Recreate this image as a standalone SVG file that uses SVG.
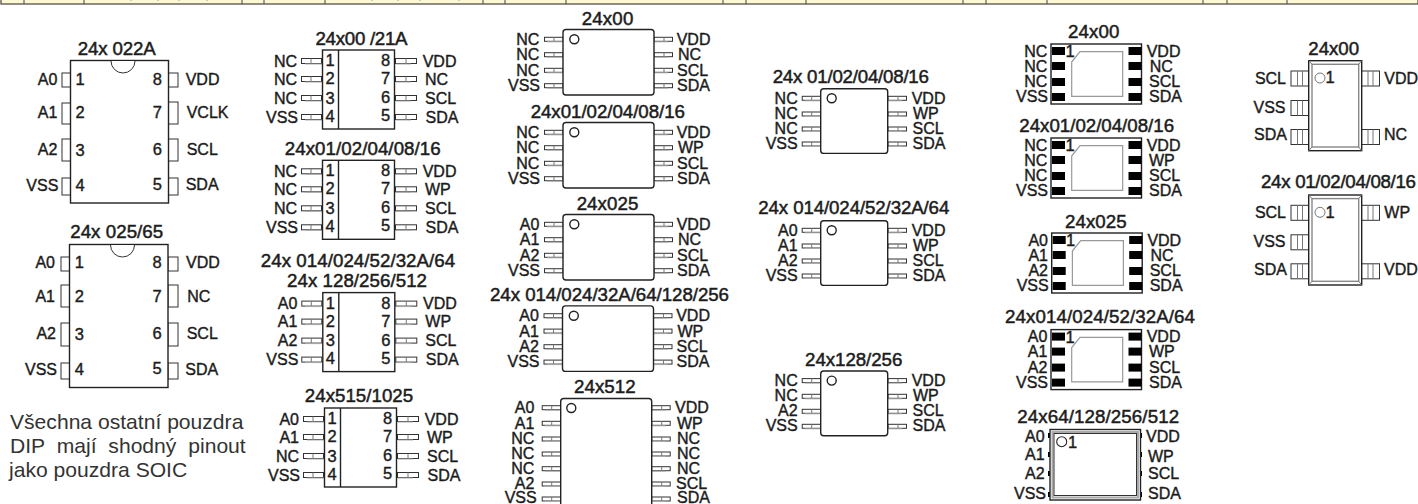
<svg xmlns="http://www.w3.org/2000/svg" width="1418" height="504" viewBox="0 0 1418 504">
<style>
text{font-family:"Liberation Sans",Arial,sans-serif;fill:#1c1c1c;stroke:#1c1c1c;stroke-width:.4}
.t{font-size:18.700px;text-anchor:middle;stroke-width:.5}
.l{font-size:16px}
.e{font-size:16px;text-anchor:end}
.n{font-size:16.500px;text-anchor:middle}
.p{font-size:21.100px;fill:#333;stroke:none}
.b{fill:#fff;stroke:#222;stroke-width:1.400}
.c{fill:#fff;stroke:#333;stroke-width:1}
.g{fill:none;stroke:#999;stroke-width:1.200}
.s{stroke:#777;stroke-width:1;fill:none}
.k{fill:#000}
</style>
<defs>
<g id="sl"><rect x="0.5" y="-2.5" width="20" height="5" class="c"/><path d="M10 -2.5V2.5" class="s"/><path d="M4 3H21" stroke="#aaa" stroke-width="1"/></g>
<g id="sr"><rect x="0.5" y="-2.5" width="21" height="5" class="c"/><path d="M11 -2.5V2.5" class="s"/><path d="M1 3H16" stroke="#aaa" stroke-width="1"/></g>
<g id="ml"><rect x="0.5" y="-2" width="18.500" height="4" class="c"/><path d="M10 -2V2" class="s"/><path d="M3 2.500H19" stroke="#aaa" stroke-width="1"/></g>
<g id="mr"><rect x="0" y="-2" width="18.500" height="4" class="c"/><path d="M10 -2V2" class="s"/><path d="M0 2.500H14" stroke="#aaa" stroke-width="1"/></g>
<g id="soic"><use href="#sl" x="301" y="61"/><use href="#sl" x="301" y="79"/><use href="#sl" x="301" y="98"/><use href="#sl" x="301" y="117"/><use href="#sr" x="395" y="61"/><use href="#sr" x="395" y="79"/><use href="#sr" x="395" y="98"/><use href="#sr" x="395" y="117"/><rect x="322.500" y="50" width="72" height="79" class="b"/><path d="M338.500 50V129" class="b"/></g>
<g id="msop"><use href="#ml" x="544" y="39.300"/><use href="#ml" x="544" y="54.700"/><use href="#ml" x="544" y="70.300"/><use href="#ml" x="544" y="85.700"/><use href="#mr" x="654" y="39.300"/><use href="#mr" x="654" y="54.700"/><use href="#mr" x="654" y="70.300"/><use href="#mr" x="654" y="85.700"/><rect x="563" y="29.500" width="91" height="65.500" rx="3" class="b"/><circle cx="574.300" cy="39.300" r="4.500" class="b"/></g>
<g id="msop4"><use href="#ml" x="801.700" y="98.300"/><use href="#ml" x="801.700" y="114"/><use href="#ml" x="801.700" y="129"/><use href="#ml" x="801.700" y="144"/><use href="#mr" x="888" y="98.300"/><use href="#mr" x="888" y="114"/><use href="#mr" x="888" y="129"/><use href="#mr" x="888" y="144"/><rect x="820.700" y="88.700" width="67" height="64.700" rx="3" class="b"/><circle cx="831.700" cy="98.300" r="4.500" class="b"/></g>
<g id="dfn"><rect x="1051" y="44" width="90.500" height="60" class="b"/><rect x="1052" y="47" width="13" height="8" class="k"/><rect x="1052" y="62" width="13" height="8" class="k"/><rect x="1052" y="78" width="13" height="8" class="k"/><rect x="1052" y="93" width="13" height="8" class="k"/><rect x="1128.500" y="47" width="13" height="8" class="k"/><rect x="1128.500" y="62" width="13" height="8" class="k"/><rect x="1128.500" y="78" width="13" height="8" class="k"/><rect x="1128.500" y="93" width="13" height="8" class="k"/><path d="M1071.700 62L1080 51.700H1122.700V96.300H1071.700Z" class="g"/></g>
<g id="p6"><rect x="0.500" y="0.500" width="18" height="15" class="c"/><path d="M7 .5V15.500M12 .5V15.500" class="s"/></g>
<g id="sot"><use href="#p6" x="1290.500" y="70.500"/><use href="#p6" x="1290.500" y="100"/><use href="#p6" x="1290.500" y="129"/><use href="#p6" x="1361" y="70.500"/><use href="#p6" x="1361" y="129"/><rect x="1308.700" y="60.700" width="53" height="90" class="b"/><rect x="1312" y="64.300" width="46.700" height="82.700" fill="none" stroke="#888" stroke-width="1.400"/><path d="M1308.700 60.700L1312 64.300M1361.700 60.700L1358.700 64.300M1308.700 150.700L1312 147M1361.700 150.700L1358.700 147" class="s"/><circle cx="1320" cy="78" r="5" fill="#fff" stroke="#777"/></g>
</defs>

<g id="header-strip">
<rect x="1" y="-2" width="1417" height="6" fill="#fdf8d2" stroke="#444" stroke-width="1.200"/>
<path d="M24 0V4M84 0V4M242 0V4M264 0V4M325 0V4M483 0V4M505 0V4M566 0V4M723 0V4M746 0V4M806 0V4M963 0V4M986 0V4M1047 0V4M1203 0V4M1227 0V4M1287 0V4" stroke="#444" stroke-width="1"/>
<path d="M130 0H132M157 0H159M178 0H180M206 0H208M371 0H373M397 0H399M419 0H421M458 0H460" stroke="#bbb" stroke-width="1.500"/>
</g>
<g id="connectors"></g>

<g id="dip-022a">
<rect x="62" y="73" width="9" height="14" class="c"/><rect x="62" y="103" width="9" height="21" class="c"/><rect x="62" y="139" width="9" height="22" class="c"/><rect x="62" y="178" width="9" height="17" class="c"/>
<rect x="168" y="73" width="10" height="14" class="c"/><rect x="168" y="102" width="10" height="22" class="c"/><rect x="168" y="139" width="10" height="22" class="c"/><rect x="168" y="178" width="10" height="17" class="c"/>
<rect x="70.500" y="60.500" width="98" height="142.500" class="b"/>
<path d="M111 61A12 12 0 0 0 135 61" class="c"/>
<text class="t" x="116.700" y="55" textLength="78">24x 022A</text>
<text class="e" x="57.300" y="85">A0</text><text class="e" x="57.300" y="118">A1</text><text class="e" x="57.300" y="155">A2</text><text class="e" x="58.300" y="191">VSS</text>
<text class="n" x="80" y="85">1</text><text class="n" x="80" y="118">2</text><text class="n" x="80" y="156">3</text><text class="n" x="80" y="191">4</text>
<text class="n" x="157.300" y="85">8</text><text class="n" x="157.300" y="118">7</text><text class="n" x="157.300" y="155">6</text><text class="n" x="157.300" y="190">5</text>
<text class="l" x="185.700" y="85">VDD</text><text class="l" x="186.700" y="118">VCLK</text><text class="l" x="186.700" y="155">SCL</text><text class="l" x="185.700" y="190">SDA</text>
</g>
<g id="dip-025">
<rect x="61" y="257" width="9" height="14" class="c"/><rect x="61" y="285" width="9" height="22" class="c"/><rect x="61" y="323" width="9" height="23" class="c"/><rect x="61" y="363" width="9" height="16" class="c"/>
<rect x="168" y="257" width="10" height="14" class="c"/><rect x="168" y="285" width="10" height="22" class="c"/><rect x="168" y="323" width="10" height="23" class="c"/><rect x="168" y="363" width="10" height="16" class="c"/>
<rect x="69.500" y="244.500" width="98.500" height="143" class="b"/>
<path d="M110.500 245A12 12 0 0 0 134.500 245" class="c"/>
<text class="t" x="116.700" y="238.300" textLength="93">24x 025/65</text>
<text class="e" x="55" y="268.300">A0</text><text class="e" x="55" y="302.300">A1</text><text class="e" x="56" y="339.300">A2</text><text class="e" x="57" y="375">VSS</text>
<text class="n" x="79.300" y="268.300">1</text><text class="n" x="79.300" y="302.300">2</text><text class="n" x="79.300" y="340">3</text><text class="n" x="79.300" y="375">4</text>
<text class="n" x="157" y="268.300">8</text><text class="n" x="157" y="302.300">7</text><text class="n" x="157" y="339.300">6</text><text class="n" x="157" y="374">5</text>
<text class="l" x="186" y="268.300">VDD</text><text class="l" x="187.300" y="302">NC</text><text class="l" x="186.700" y="339.300">SCL</text><text class="l" x="185.300" y="375">SDA</text>
</g>
<g id="note">
<text class="p" x="10" y="429">Všechna ostatní pouzdra</text>
<text class="p" x="10" y="453.300" word-spacing="6">DIP mají shodný pinout</text>
<text class="p" x="9" y="476.700">jako pouzdra SOIC</text>
</g>

<g id="soic-00"><use href="#soic"/>
<text class="t" x="361.500" y="45" textLength="92">24x00 /21A</text>
<text class="e" x="297" y="66.700">NC</text><text class="e" x="297" y="84.700">NC</text><text class="e" x="297" y="103.700">NC</text><text class="e" x="298" y="122.500">VSS</text>
<text class="n" x="330" y="66">1</text><text class="n" x="330" y="84">2</text><text class="n" x="330" y="103.500">3</text><text class="n" x="330" y="121.500">4</text>
<text class="n" x="385.500" y="66">8</text><text class="n" x="385.500" y="84">7</text><text class="n" x="385.500" y="103">6</text><text class="n" x="385.500" y="121">5</text>
<text class="l" x="422.700" y="66.700">VDD</text><text class="l" x="425" y="84.700">NC</text><text class="l" x="425" y="103.700">SCL</text><text class="l" x="425.500" y="122.500">SDA</text>
</g>
<g id="soic-01" transform="translate(0 110.300)"><use href="#soic"/>
<text class="t" x="362.700" y="44.700" textLength="156">24x01/02/04/08/16</text>
<text class="e" x="297" y="66.700">NC</text><text class="e" x="297" y="84.700">NC</text><text class="e" x="297" y="103.700">NC</text><text class="e" x="298" y="122.500">VSS</text>
<text class="n" x="330" y="66">1</text><text class="n" x="330" y="84">2</text><text class="n" x="330" y="103.500">3</text><text class="n" x="330" y="121.500">4</text>
<text class="n" x="385.500" y="66">8</text><text class="n" x="385.500" y="84">7</text><text class="n" x="385.500" y="103">6</text><text class="n" x="385.500" y="121">5</text>
<text class="l" x="422.700" y="66.700">VDD</text><text class="l" x="425" y="84.700">WP</text><text class="l" x="425" y="103.700">SCL</text><text class="l" x="425.500" y="122.500">SDA</text>
</g>
<g id="soic-014" transform="translate(.3 242.600)"><use href="#soic"/>
<text class="t" x="357.700" y="24.700" textLength="194.300">24x 014/024/52/32A/64</text>
<text class="t" x="356.700" y="44.700" textLength="140">24x 128/256/512</text>
<text class="e" x="297" y="66.700">A0</text><text class="e" x="297" y="84.700">A1</text><text class="e" x="297" y="103.700">A2</text><text class="e" x="298" y="122.500">VSS</text>
<text class="n" x="330" y="66">1</text><text class="n" x="330" y="84">2</text><text class="n" x="330" y="103.500">3</text><text class="n" x="330" y="121.500">4</text>
<text class="n" x="385.500" y="66">8</text><text class="n" x="385.500" y="84">7</text><text class="n" x="385.500" y="103">6</text><text class="n" x="385.500" y="121">5</text>
<text class="l" x="422.700" y="66.700">VDD</text><text class="l" x="425" y="84.700">WP</text><text class="l" x="425" y="103.700">SCL</text><text class="l" x="425.500" y="122.500">SDA</text>
</g>
<g id="soic-515" transform="translate(2 358)"><use href="#soic"/>
<text class="t" x="357" y="44.300" textLength="108.300">24x515/1025</text>
<text class="e" x="297" y="66.700">A0</text><text class="e" x="297" y="84.700">A1</text><text class="e" x="297" y="103.700">NC</text><text class="e" x="298" y="122.500">VSS</text>
<text class="n" x="330" y="66">1</text><text class="n" x="330" y="84">2</text><text class="n" x="330" y="103.500">3</text><text class="n" x="330" y="121.500">4</text>
<text class="n" x="385.500" y="66">8</text><text class="n" x="385.500" y="84">7</text><text class="n" x="385.500" y="103">6</text><text class="n" x="385.500" y="121">5</text>
<text class="l" x="422.700" y="66.700">VDD</text><text class="l" x="425" y="84.700">WP</text><text class="l" x="425" y="103.700">SCL</text><text class="l" x="425.500" y="122.500">SDA</text>
</g>

<g id="msop-00"><use href="#msop"/>
<text class="t" x="607.500" y="25.300" textLength="51.700">24x00</text>
<text class="e" x="539.300" y="45">NC</text><text class="e" x="539.300" y="60.300">NC</text><text class="e" x="539.300" y="76">NC</text><text class="e" x="540" y="91">VSS</text>
<text class="l" x="676.700" y="45">VDD</text><text class="l" x="678" y="60.300">NC</text><text class="l" x="677" y="76">SCL</text><text class="l" x="677" y="91">SDA</text>
</g>
<g id="msop-01" transform="translate(0 93)"><use href="#msop"/>
<text class="t" x="607.800" y="25.300" textLength="154.300">24x01/02/04/08/16</text>
<text class="e" x="539.300" y="45">NC</text><text class="e" x="539.300" y="60.300">NC</text><text class="e" x="539.300" y="76">NC</text><text class="e" x="540" y="91">VSS</text>
<text class="l" x="676.700" y="45">VDD</text><text class="l" x="678" y="60.300">WP</text><text class="l" x="677" y="76">SCL</text><text class="l" x="677" y="91">SDA</text>
</g>
<g id="msop-025" transform="translate(0 185)"><use href="#msop"/>
<text class="t" x="607.500" y="25.300" textLength="61.700">24x025</text>
<text class="e" x="539.300" y="45">A0</text><text class="e" x="539.300" y="60.300">A1</text><text class="e" x="539.300" y="76">A2</text><text class="e" x="540" y="91">VSS</text>
<text class="l" x="676.700" y="45">VDD</text><text class="l" x="678" y="60.300">NC</text><text class="l" x="677" y="76">SCL</text><text class="l" x="677" y="91">SDA</text>
</g>
<g id="msop-014" transform="translate(-.5 276.400)"><use href="#msop"/>
<text class="t" x="610" y="24.600" textLength="239">24x 014/024/32A/64/128/256</text>
<text class="e" x="539.300" y="45">A0</text><text class="e" x="539.300" y="60.300">A1</text><text class="e" x="539.300" y="76">A2</text><text class="e" x="540" y="91">VSS</text>
<text class="l" x="676.700" y="45">VDD</text><text class="l" x="678" y="60.300">WP</text><text class="l" x="677" y="76">SCL</text><text class="l" x="677" y="91">SDA</text>
</g>
<g id="msop-512">
<use href="#ml" x="541.700" y="407.700"/><use href="#ml" x="541.700" y="423.300"/><use href="#ml" x="541.700" y="439"/><use href="#ml" x="541.700" y="454"/><use href="#ml" x="541.700" y="468.700"/><use href="#ml" x="541.700" y="484"/><use href="#ml" x="541.700" y="499"/>
<use href="#mr" x="651.700" y="407.700"/><use href="#mr" x="651.700" y="423.300"/><use href="#mr" x="651.700" y="439"/><use href="#mr" x="651.700" y="454"/><use href="#mr" x="651.700" y="468.700"/><use href="#mr" x="651.700" y="484"/><use href="#mr" x="651.700" y="499"/>
<rect x="560.700" y="398.500" width="91" height="120" rx="3" class="b"/><circle cx="571.300" cy="408" r="4.500" class="b"/>
<text class="t" x="604.800" y="392.700" textLength="61.700">24x512</text>
<text class="e" x="534.300" y="413.300">A0</text><text class="e" x="534.300" y="429">A1</text><text class="e" x="534.300" y="444.300">NC</text><text class="e" x="534.300" y="459">NC</text><text class="e" x="534.300" y="473.700">NC</text><text class="e" x="534.300" y="488.500">A2</text><text class="e" x="536.700" y="503">VSS</text>
<text class="l" x="675" y="413.300">VDD</text><text class="l" x="677" y="429">WP</text><text class="l" x="677" y="444.300">NC</text><text class="l" x="677" y="459">NC</text><text class="l" x="677" y="473.700">NC</text><text class="l" x="676" y="488.500">SCL</text><text class="l" x="677" y="503">SDA</text>
</g>

<g id="msop-b-01"><use href="#msop4"/>
<text class="t" x="850.800" y="82.700" textLength="156.300">24x 01/02/04/08/16</text>
<text class="e" x="797.700" y="104">NC</text><text class="e" x="797.700" y="119">NC</text><text class="e" x="797.700" y="134">NC</text><text class="e" x="797.700" y="149">VSS</text>
<text class="l" x="911.700" y="104">VDD</text><text class="l" x="913" y="119">WP</text><text class="l" x="912.500" y="134">SCL</text><text class="l" x="912.500" y="149">SDA</text>
</g>
<g id="msop-b-014" transform="translate(0 132)"><use href="#msop4"/>
<text class="t" x="853.800" y="82.300" textLength="191">24x 014/024/52/32A/64</text>
<text class="e" x="797.700" y="104">A0</text><text class="e" x="797.700" y="119">A1</text><text class="e" x="797.700" y="134">A2</text><text class="e" x="797.700" y="149">VSS</text>
<text class="l" x="911.700" y="104">VDD</text><text class="l" x="913" y="119">WP</text><text class="l" x="912.500" y="134">SCL</text><text class="l" x="912.500" y="149">SDA</text>
</g>
<g id="msop-b-128" transform="translate(0 282.300)"><use href="#msop4"/>
<text class="t" x="853.700" y="83.700" textLength="97.300">24x128/256</text>
<text class="e" x="797.700" y="104">NC</text><text class="e" x="797.700" y="119">NC</text><text class="e" x="797.700" y="134">A2</text><text class="e" x="797.700" y="149">VSS</text>
<text class="l" x="911.700" y="104">VDD</text><text class="l" x="913" y="119">WP</text><text class="l" x="912.500" y="134">SCL</text><text class="l" x="912.500" y="149">SDA</text>
</g>

<g id="dfn-00"><use href="#dfn"/>
<text class="t" x="1093.700" y="38.300" textLength="51.300">24x00</text>
<text class="n" x="1070" y="57.300">1</text>
<text class="e" x="1047.300" y="56.700">NC</text><text class="e" x="1047.300" y="71.700">NC</text><text class="e" x="1047.300" y="87">NC</text><text class="e" x="1048" y="102">VSS</text>
<text class="l" x="1146.700" y="56.700">VDD</text><text class="l" x="1149.700" y="71.700">NC</text><text class="l" x="1149" y="87">SCL</text><text class="l" x="1149" y="102">SDA</text>
</g>
<g id="dfn-01" transform="translate(0 94)"><use href="#dfn"/>
<text class="t" x="1096.700" y="38.300" textLength="154.700">24x01/02/04/08/16</text>
<text class="n" x="1070" y="57.300">1</text>
<text class="e" x="1047.300" y="56.700">NC</text><text class="e" x="1047.300" y="71.700">NC</text><text class="e" x="1047.300" y="87">NC</text><text class="e" x="1048" y="102">VSS</text>
<text class="l" x="1146.700" y="56.700">VDD</text><text class="l" x="1149" y="71.700">WP</text><text class="l" x="1149" y="87">SCL</text><text class="l" x="1149" y="102">SDA</text>
</g>
<g id="dfn-025" transform="translate(.7 189)"><use href="#dfn"/>
<text class="t" x="1095.100" y="38.700" textLength="61.700">24x025</text>
<text class="n" x="1070" y="57.300">1</text>
<text class="e" x="1047.300" y="56.700">A0</text><text class="e" x="1047.300" y="71.700">A1</text><text class="e" x="1047.300" y="87">A2</text><text class="e" x="1048" y="102">VSS</text>
<text class="l" x="1146.700" y="56.700">VDD</text><text class="l" x="1149.700" y="71.700">NC</text><text class="l" x="1149" y="87">SCL</text><text class="l" x="1149" y="102">SDA</text>
</g>
<g id="dfn-014" transform="translate(0 285.600)"><use href="#dfn"/>
<text class="t" x="1100" y="37.700" textLength="190">24x014/024/52/32A/64</text>
<text class="n" x="1070" y="57.300">1</text>
<text class="e" x="1047.300" y="56.700">A0</text><text class="e" x="1047.300" y="71.700">A1</text><text class="e" x="1047.300" y="87">A2</text><text class="e" x="1048" y="102">VSS</text>
<text class="l" x="1146.700" y="56.700">VDD</text><text class="l" x="1149" y="71.700">WP</text><text class="l" x="1149" y="87">SCL</text><text class="l" x="1149" y="102">SDA</text>
</g>
<g id="dfn-64">
<path d="M1049.500 433v5M1049.500 452v5M1049.500 471v5M1049.500 492v5M1140.500 433v5M1140.500 452v5M1140.500 471v5M1140.500 492v5" stroke="#000" stroke-width="3"/>
<rect x="1050" y="429.500" width="90.500" height="70.500" class="b"/>
<rect x="1052.500" y="432" width="85.500" height="65.500" fill="#fff" stroke="#aaa" stroke-width="2"/>
<rect x="1054" y="433.500" width="82.500" height="62" fill="#fff" stroke="#333" stroke-width="1"/>
<circle cx="1061.700" cy="441.700" r="5" fill="#fff" stroke="#222" stroke-width="1.100"/>
<text class="n" x="1072.500" y="448.300">1</text>
<text class="t" x="1098.200" y="423.300" textLength="161.700">24x64/128/256/512</text>
<text class="e" x="1044.700" y="441.700">A0</text><text class="e" x="1044.700" y="460.300">A1</text><text class="e" x="1044.700" y="479">A2</text><text class="e" x="1046" y="499">VSS</text>
<text class="l" x="1146" y="441.700">VDD</text><text class="l" x="1148" y="462">WP</text><text class="l" x="1148" y="479.300">SCL</text><text class="l" x="1148" y="499">SDA</text>
</g>

<g id="sot-00"><use href="#sot"/>
<text class="t" x="1333.700" y="55" textLength="50.700">24x00</text>
<text class="n" x="1330" y="83.300">1</text>
<text class="e" x="1286" y="84">SCL</text><text class="e" x="1285.500" y="113">VSS</text><text class="e" x="1287" y="140.300">SDA</text>
<text class="l" x="1384.300" y="84">VDD</text><text class="l" x="1384" y="140.300">NC</text>
</g>
<g id="sot-01" transform="translate(0 134.300)"><use href="#sot"/>
<text class="t" x="1338.500" y="54" textLength="155">24x 01/02/04/08/16</text>
<text class="n" x="1330" y="83.300">1</text>
<text class="e" x="1286" y="84">SCL</text><text class="e" x="1285.500" y="113">VSS</text><text class="e" x="1287" y="140.300">SDA</text>
<text class="l" x="1384.300" y="84">WP</text><text class="l" x="1384" y="140.300">VDD</text>
</g>
</svg>
